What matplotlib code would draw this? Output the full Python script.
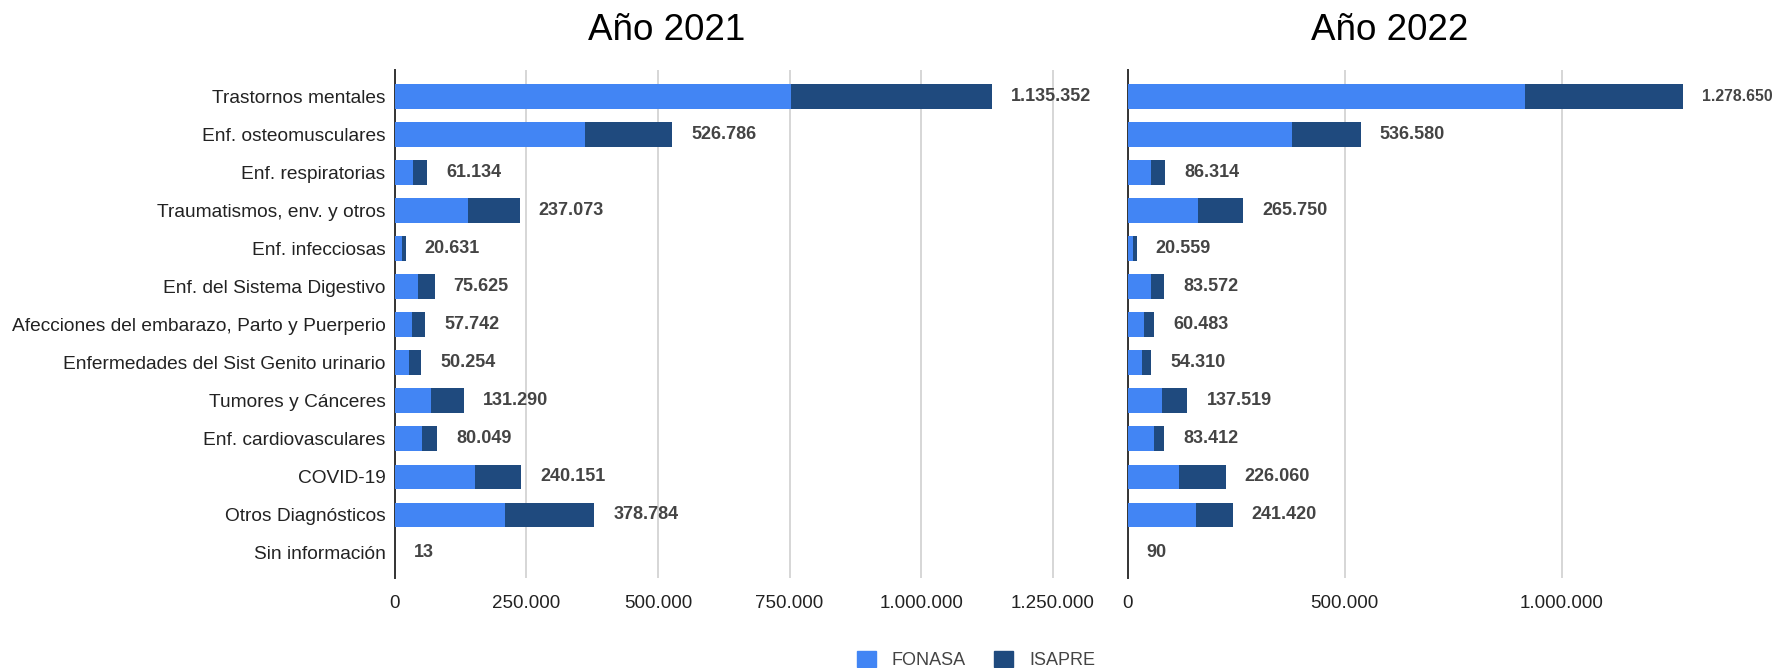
import matplotlib
matplotlib.use("Agg")
import matplotlib.pyplot as plt
from matplotlib.patches import Patch

plt.rcParams['font.family'] = ['Liberation Sans', 'DejaVu Sans']

# datos
categories = ["Trastornos mentales", "Enf. osteomusculares", "Enf. respiratorias",
              "Traumatismos, env. y otros", "Enf. infecciosas", "Enf. del Sistema Digestivo",
              "Afecciones del embarazo, Parto y Puerperio", "Enfermedades del Sist Genito urinario",
              "Tumores y Cánceres", "Enf. cardiovasculares", "COVID-19", "Otros Diagnósticos",
              "Sin información"]

fonasa_2021 = [753000, 362000, 35600, 140000, 14000, 44000, 32300, 28000, 68000, 52700, 152700, 209500, 10]
isapre_2021 = [382352, 164786, 25534, 97073, 6631, 31625, 25442, 22254, 63290, 27349, 87451, 169284, 3]
total_2021 = [1135352, 526786, 61134, 237073, 20631, 75625, 57742, 50254, 131290, 80049, 240151, 378784, 13]

fonasa_2022 = [915000, 377400, 52800, 162200, 12600, 52800, 38100, 33100, 79200, 60700, 118200, 157500, 70]
isapre_2022 = [363650, 159180, 33514, 103550, 7959, 30772, 22383, 21210, 58319, 22712, 107860, 83920, 20]
total_2022 = [1278650, 536580, 86314, 265750, 20559, 83572, 60483, 54310, 137519, 83412, 226060, 241420, 90]

ticks_2021 = [0, 250000, 500000, 750000, 1000000, 1250000]
ticks_2022 = [0, 500000, 1000000]

c_fonasa = "#4285f4"
c_isapre = "#1f4a7e"

def fmt(v):
    return f"{v:,}".replace(",", ".")

fig = plt.figure(figsize=(17.75, 6.68), dpi=100)
ax1 = fig.add_axes([0.2224, 0.1347, 0.3855, 0.7605])
ax2 = fig.add_axes([0.6353, 0.1347, 0.3181, 0.7605])

ypos = list(range(len(categories)))

for ax, fon, isa, tot, ticks in [(ax1, fonasa_2021, isapre_2021, total_2021, ticks_2021),
                                 (ax2, fonasa_2022, isapre_2022, total_2022, ticks_2022)]:
    ax.barh(ypos, fon, height=0.65, color=c_fonasa, zorder=3)
    ax.barh(ypos, isa, left=fon, height=0.65, color=c_isapre, zorder=3)
    for y, t in zip(ypos, tot):
        # la etiqueta mas larga del panel derecho sale reducida para caber
        fs = 11.3 if (ax is ax2 and t > 1200000) else 13
        ax.annotate(fmt(t), (t, y), xytext=(19, 0), textcoords='offset pixels',
                    ha='left', va='center', fontsize=fs, fontweight='bold',
                    color='#444444', annotation_clip=False)
    ax.set_xlim(0, 1300000)
    ax.set_ylim(12.66, -0.70)
    ax.set_xticks(ticks)
    ax.set_xticklabels([fmt(t) for t in ticks], fontsize=13.5, color='#222222')
    ax.grid(axis='x', color='#cccccc', linewidth=1.1, zorder=0)
    for s in ['top', 'right', 'bottom']:
        ax.spines[s].set_visible(False)
    ax.spines['left'].set_color('#333333')
    ax.spines['left'].set_linewidth(1.4)
    ax.tick_params(axis='both', length=0)
    ax.tick_params(axis='x', pad=12.5)

ax1.set_yticks(ypos)
ax1.set_yticklabels(categories, fontsize=13.8, color='#222222')
ax1.tick_params(axis='y', pad=6.5)
ax2.set_yticks([])

fig.text(667 / 1775, 1 - 40 / 668, "Año 2021", fontsize=26.5, ha='center', va='baseline')
fig.text(1390 / 1775, 1 - 40 / 668, "Año 2022", fontsize=26.5, ha='center', va='baseline')

handles = [Patch(color=c_fonasa, label="FONASA"), Patch(color=c_isapre, label="ISAPRE")]
leg = fig.legend(handles=handles, loc='center', bbox_to_anchor=(976 / 1775, 1 - 660 / 668),
                 ncol=2, frameon=False, fontsize=13, handlelength=1.05, handleheight=1.05,
                 handletextpad=0.9, columnspacing=1.55)
for t in leg.get_texts():
    t.set_color('#444444')

plt.savefig("out.png", dpi=100)
